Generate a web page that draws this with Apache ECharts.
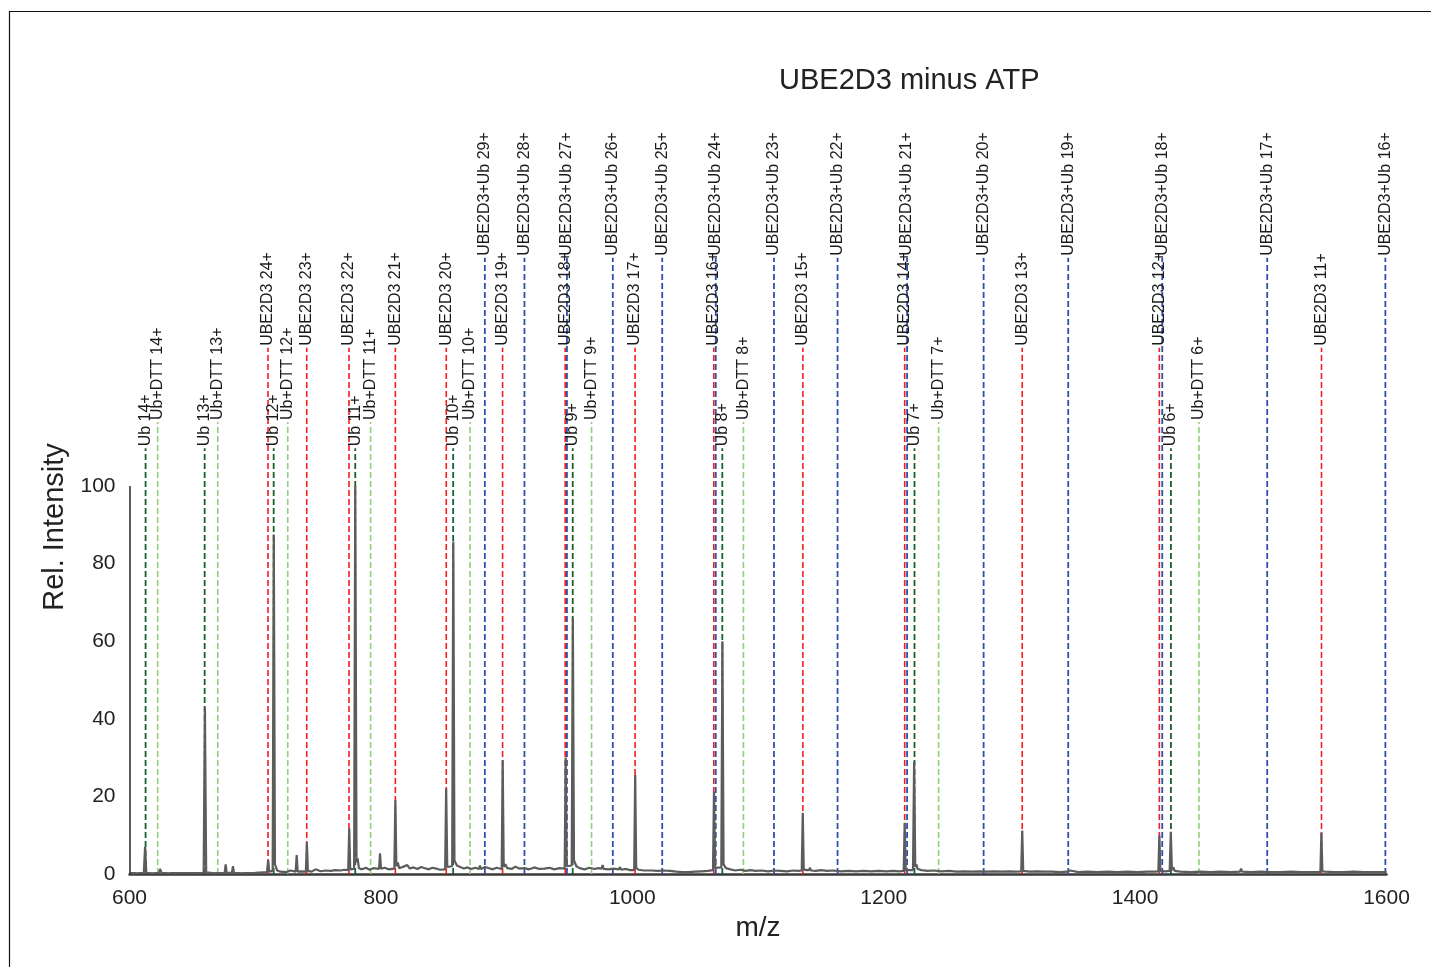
<!DOCTYPE html>
<html>
<head>
<meta charset="utf-8">
<title>UBE2D3 minus ATP</title>
<script src="https://cdn.jsdelivr.net/npm/echarts@6/dist/echarts.min.js"></script>
<style>
  html, body { margin: 0; padding: 0; background: #fff; }
  #chart { width: 1431px; height: 967px; }
</style>
</head>
<body>
<div id="chart"></div>
<script>
// annotation positions (m/z) and their labels
const ubMz = [612.8, 659.8, 714.7, 779.6, 857.5, 952.6, 1071.6, 1224.5, 1428.5];
const ubLabels = ['Ub 14+', 'Ub 13+', 'Ub 12+', 'Ub 11+', 'Ub 10+', 'Ub 9+', 'Ub 8+', 'Ub 7+', 'Ub 6+'];

const ubDttMz = [622.4, 670.2, 725.9, 791.8, 870.9, 967.6, 1088.4, 1243.7, 1450.8];
const ubDttLabels = ['Ub+DTT 14+', 'Ub+DTT 13+', 'Ub+DTT 12+', 'Ub+DTT 11+', 'Ub+DTT 10+', 'Ub+DTT 9+', 'Ub+DTT 8+', 'Ub+DTT 7+', 'Ub+DTT 6+'];

const e2Mz = [710.2, 741.0, 774.6, 811.5, 852.0, 896.8, 946.6, 1002.2, 1064.8, 1135.7, 1216.7, 1310.2, 1419.3, 1548.3];
const e2Labels = ['UBE2D3 24+', 'UBE2D3 23+', 'UBE2D3 22+', 'UBE2D3 21+', 'UBE2D3 20+', 'UBE2D3 19+', 'UBE2D3 18+',
  'UBE2D3 17+', 'UBE2D3 16+', 'UBE2D3 15+', 'UBE2D3 14+', 'UBE2D3 13+', 'UBE2D3 12+', 'UBE2D3 11+'];

const e2UbMz = [882.7, 914.2, 948.0, 984.5, 1023.8, 1066.4, 1112.7, 1163.3, 1218.6, 1279.5, 1346.8, 1421.6, 1505.1, 1599.1];
const e2UbLabels = ['UBE2D3+Ub 29+', 'UBE2D3+Ub 28+', 'UBE2D3+Ub 27+', 'UBE2D3+Ub 26+', 'UBE2D3+Ub 25+', 'UBE2D3+Ub 24+',
  'UBE2D3+Ub 23+', 'UBE2D3+Ub 22+', 'UBE2D3+Ub 21+', 'UBE2D3+Ub 20+', 'UBE2D3+Ub 19+', 'UBE2D3+Ub 18+',
  'UBE2D3+Ub 17+', 'UBE2D3+Ub 16+'];

const xTicks = [600, 800, 1000, 1200, 1400, 1600];
const yTicks = [0, 20, 40, 60, 80, 100];

// spectrum [m/z, rel. intensity]
const spectrum = [
  [600, 0.2], [605, 0.2], [611.4, 0.3], [612.4, 7.0], [613.4, 0.3], [618, 0.2], [623.5, 0.3], [624.3, 1.3], [625.5, 0.3],
  [632, 0.2], [640, 0.2], [650, 0.2], [659.0, 0.3], [660.0, 43.0], [661.0, 0.4], [668, 0.2], [675.7, 0.3], [676.5, 2.5],
  [677.3, 0.3], [681.5, 0.3], [682.3, 2.0], [683.1, 0.3], [690, 0.2], [700, 0.3], [705, 0.4], [709.4, 0.5], [710.3, 3.6],
  [711.2, 0.6], [713.9, 0.8], [714.8, 87.5], [715.7, 2.5], [716.5, 3.0], [717.5, 0.9], [720, 0.6], [725, 0.5], [728, 0.9],
  [732.2, 0.6], [733.0, 4.9], [733.8, 0.6], [737, 0.7], [740.3, 0.6], [741.1, 8.1], [741.9, 0.8], [745, 0.6], [748, 1.2],
  [752, 0.7], [756, 0.9], [760, 0.8], [764, 1.0], [768, 0.9], [771, 1.1], [774.0, 1.0], [774.8, 11.8], [775.6, 1.2],
  [778.7, 1.3], [779.6, 100], [780.6, 3.0], [781.5, 4.0], [782.5, 1.5], [785, 1.2], [788, 1.6], [791, 1.1], [794, 1.5],
  [798.5, 1.3], [799.3, 5.3], [800.1, 1.4], [803, 1.6], [806, 1.2], [810.7, 1.4], [811.5, 19.0], [812.3, 2.0], [813.5, 3.0],
  [814.5, 1.5], [818, 1.9], [821, 2.3], [823, 1.4], [826, 1.7], [829, 1.3], [832, 1.8], [835, 1.5], [838, 1.2], [841, 1.6],
  [844, 1.4], [847, 1.1], [851.1, 1.2], [851.9, 22.0], [852.8, 1.8], [856.7, 2.0], [857.6, 85.7], [858.5, 3.5], [859.5, 4.0],
  [860.5, 2.2], [863, 1.8], [866, 1.4], [869, 1.7], [872, 1.3], [875, 1.6], [878.0, 1.3], [878.8, 2.2], [879.6, 1.3],
  [883, 1.8], [886, 1.5], [889, 1.2], [892, 1.6], [896.1, 1.3], [896.9, 29.3], [897.7, 1.8], [899, 2.5], [900.5, 1.5],
  [904, 1.3], [907, 1.9], [910, 1.4], [914, 1.5], [918, 1.2], [922, 1.7], [926, 1.3], [930, 1.4], [934, 1.6], [938, 1.2],
  [942, 1.5], [946.2, 1.4], [947.0, 30.0], [947.8, 2.0], [951.8, 2.2], [952.7, 66.0], [953.6, 3.5], [954.5, 4.0], [955.5, 2.0],
  [958, 1.5], [962, 1.2], [966, 1.6], [970, 1.3], [973, 1.5], [975.6, 1.4], [976.4, 2.3], [977.2, 1.3], [981, 1.2], [985, 1.4],
  [989.4, 1.2], [990.2, 1.8], [991.0, 1.1], [995, 1.3], [998, 1.0], [1001.5, 1.0], [1002.3, 25.5], [1003.1, 1.6], [1004, 2.0],
  [1005, 1.1], [1009, 0.9], [1013.8, 0.9], [1014.6, 1.3], [1015.4, 0.9], [1020, 0.8], [1025, 0.9], [1030, 0.8], [1035, 0.6],
  [1040, 0.5], [1045, 0.5], [1050, 0.6], [1055, 0.7], [1060, 0.8], [1064.2, 1.0], [1065.0, 21.2], [1065.9, 1.6], [1070.8, 1.7],
  [1071.7, 60.0], [1072.6, 2.5], [1073.5, 3.0], [1074.5, 1.5], [1078, 1.2], [1082, 0.9], [1086, 1.1], [1090, 0.8], [1094, 1.0],
  [1098, 0.8], [1103, 0.9], [1108, 0.7], [1113, 0.9], [1118, 0.8], [1123, 0.7], [1128, 0.9], [1132, 0.8], [1134.8, 0.9],
  [1135.6, 15.8], [1136.4, 1.2], [1138.5, 1.0], [1140.6, 1.0], [1141.4, 1.6], [1142.2, 0.9], [1146, 0.8], [1150, 1.0],
  [1155, 0.8], [1160, 0.9], [1166, 0.7], [1172, 0.8], [1178, 0.7], [1184, 0.8], [1190, 0.7], [1196, 0.8], [1202, 0.7],
  [1208, 0.8], [1212, 0.7], [1215.9, 0.8], [1216.7, 13.2], [1217.5, 1.0], [1223.3, 1.0], [1224.2, 29.0], [1225.1, 1.8],
  [1226, 2.5], [1227, 1.3], [1230, 1.0], [1235, 0.8], [1240, 0.9], [1246, 0.7], [1252, 0.8], [1258, 0.6], [1264, 0.7],
  [1270, 0.6], [1276, 0.7], [1282, 0.6], [1288, 0.7], [1294, 0.6], [1300, 0.7], [1305, 0.6], [1309.4, 0.7], [1310.2, 11.2],
  [1311.0, 0.8], [1316, 0.6], [1322, 0.7], [1328, 0.6], [1334, 0.6], [1340, 0.5], [1346, 0.6], [1347.5, 0.6], [1348.2, 0.9],
  [1349, 0.6], [1355, 0.5], [1362, 0.6], [1370, 0.5], [1378, 0.6], [1386, 0.5], [1394, 0.6], [1402, 0.5], [1410, 0.6],
  [1416, 0.6], [1418.5, 0.7], [1419.3, 10.0], [1420.1, 0.8], [1424, 0.7], [1427.5, 0.8], [1428.4, 10.9], [1429.3, 1.0],
  [1430.5, 1.7], [1431.5, 0.8], [1436, 0.6], [1444, 0.5], [1452, 0.6], [1460, 0.5], [1468, 0.6], [1476, 0.5], [1483.5, 0.6],
  [1484.3, 1.4], [1485.1, 0.6], [1492, 0.5], [1500, 0.6], [1508, 0.5], [1516, 0.5], [1524, 0.6], [1532, 0.5], [1540, 0.5],
  [1547.4, 0.5], [1548.2, 10.6], [1549.0, 0.7], [1551, 0.6], [1558, 0.5], [1566, 0.5], [1574, 0.6], [1582, 0.5], [1590, 0.5],
  [1598, 0.5], [1600, 0.5]
];

const FONT = '"Liberation Sans", Arial, sans-serif';

// dashed marker line from the baseline up to `top`, with a rotated label on top
function markerSeries(name, mzList, labels, color, width, top) {
  return {
    type: 'custom',
    name: name,
    z: 2,
    silent: true,
    data: mzList.map(m => [m, 0]),
    renderItem: function (params, api) {
      const base = api.coord([api.value(0), 0]);
      const end = api.coord([api.value(0), top]);
      return {
        type: 'group',
        children: [
          {
            type: 'line',
            shape: { x1: base[0], y1: base[1], x2: end[0], y2: end[1] },
            style: { stroke: color, lineWidth: width, lineDash: [6, 3] }
          },
          {
            type: 'text',
            x: end[0],
            y: end[1] - 2,
            rotation: Math.PI / 2,
            style: {
              text: labels[params.dataIndex],
              align: 'left',
              verticalAlign: 'middle',
              fontFamily: FONT,
              fontSize: 16,
              fill: '#1a1a1a'
            }
          }
        ]
      };
    }
  };
}

const chart = echarts.init(document.getElementById('chart'));

chart.setOption({
  backgroundColor: '#fff',
  animation: false,
  title: {
    text: 'UBE2D3 minus ATP',
    left: 779,
    top: 66,
    padding: 0,
    textStyle: { fontFamily: FONT, fontSize: 29, fontWeight: 'normal', color: '#222' }
  },
  graphic: [
    {
      type: 'rect',
      shape: { x: 9.5, y: 11.5, width: 1500, height: 1000 },
      style: { fill: 'none', stroke: '#111', lineWidth: 1.2 },
      silent: true
    },
    {
      type: 'text',
      x: 55,
      y: 527,
      rotation: Math.PI / 2,
      style: {
        text: 'Rel. Intensity',
        align: 'center',
        verticalAlign: 'middle',
        fontFamily: FONT,
        fontSize: 29,
        fill: '#222'
      }
    }
  ],
  grid: { left: 129.5, right: 44.5, top: 214.4, bottom: 93 },
  xAxis: {
    type: 'value',
    min: xTicks[0],
    max: xTicks[xTicks.length - 1],
    interval: 200,
    name: 'm/z',
    nameLocation: 'middle',
    nameGap: 40,
    nameTextStyle: { fontFamily: FONT, fontSize: 28, color: '#222' },
    axisLine: { lineStyle: { color: '#3a3a3a', width: 2.5 } },
    axisTick: { show: false },
    splitLine: { show: false },
    axisLabel: {
      fontFamily: FONT, fontSize: 21, color: '#222', margin: 14,
      formatter: v => (xTicks.indexOf(v) >= 0 ? String(v) : '')
    }
  },
  yAxis: {
    type: 'value',
    min: 0,
    max: 170,
    interval: 20,
    axisLine: { show: false },
    axisTick: { show: false },
    splitLine: { show: false },
    axisLabel: {
      fontFamily: FONT, fontSize: 21, color: '#222', margin: 14,
      formatter: v => (yTicks.indexOf(v) >= 0 ? String(v) : '')
    }
  },
  series: [
    markerSeries('UBE2D3+Ub', e2UbMz, e2UbLabels, '#2f4fae', 1.8, 158.8),
    markerSeries('UBE2D3', e2Mz, e2Labels, '#f21d1d', 1.6, 135.6),
    markerSeries('Ub+DTT', ubDttMz, ubDttLabels, '#8fd07a', 1.6, 116.5),
    markerSeries('Ub', ubMz, ubLabels, '#17602e', 1.8, 109.7),
    {
      type: 'line',
      name: 'spectrum',
      z: 3,
      data: spectrum,
      showSymbol: false,
      symbol: 'none',
      silent: true,
      lineStyle: { color: '#5c5c5c', width: 2.2 },
      markLine: {
        silent: true,
        symbol: 'none',
        label: { show: false },
        lineStyle: { color: '#333', width: 1.6, type: 'solid' },
        data: [[{ coord: [xTicks[0], yTicks[0]] }, { coord: [xTicks[0], yTicks[yTicks.length - 1]] }]]
      }
    }
  ]
});
</script>
</body>
</html>
